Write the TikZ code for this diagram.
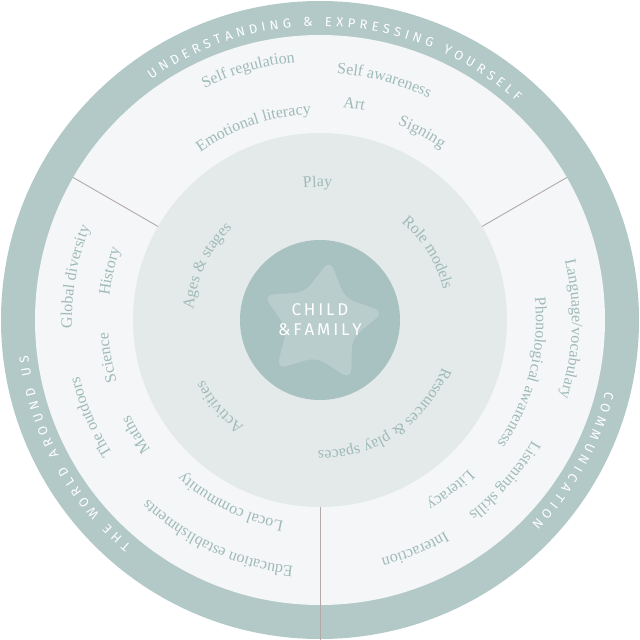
\documentclass[tikz,border=0pt]{standalone}
\usepackage{fontspec}
\setmainfont{Liberation Serif}
\newfontfamily\ringfont{Fira Sans}
\usetikzlibrary{decorations.text,shapes.geometric}
\definecolor{ringc}{HTML}{B2C9C8}
\definecolor{bandc}{HTML}{F4F6F7}
\definecolor{midc}{HTML}{E4EAEA}
\definecolor{cenc}{HTML}{A8C2C1}
\definecolor{starc}{HTML}{B9CECC}
\definecolor{txtc}{HTML}{9FBAB8}
\definecolor{divc}{HTML}{B3AAAA}
\newcommand\sectorfont{\fontsize{16}{18}\selectfont\color{txtc}}
\newcommand\ringf{\ringfont\fontsize{13}{15}\selectfont\color{white}}
% radius, center angle, text, half span
\newcommand\arctxt[4]{%
\path[decorate,decoration={text along path,text={|\sectorfont|#3},text align=center}]
 (#2+#4:#1pt) arc[start angle=#2+#4,end angle=#2-#4,radius=#1pt];}
% radius, start, end, text
\newcommand\ringtxt[4]{%
\path[decorate,decoration={text along path,text={|\ringf|#4},text align={fit to path}}]
 (#2:#1pt) arc[start angle=#2,end angle=#3,radius=#1pt];}
\begin{document}
\begin{tikzpicture}[x=1pt,y=1pt,
  disc/.style={circle,inner sep=0pt,draw=none}]
\useasboundingbox (-320,-320) rectangle (320,320);
\node[disc,fill=ringc,minimum size=638pt] (ring) at (0,0) {};
\node[disc,fill=bandc,minimum size=570pt] (band) at (0,0) {};
\node[disc,fill=midc,minimum size=374pt] (mid) at (0,0) {};
\node[disc,fill=cenc,minimum size=160pt] (cen) at (0,0) {};
\node[star,star points=5,star point ratio=1.85,fill=starc,minimum size=128pt,rounded corners=10pt,rotate=-8,inner sep=0pt] (st) at (1,-3) {};
\node[align=center,text=white,font=\ringfont\fontsize{17}{20}\selectfont] (child) at (0,0) {C\,H\,I\,L\,D\\\&\,F\,A\,M\,I\,L\,Y};
% dividers
\draw[divc,line width=0.9pt] (150:187pt) coordinate (l1) -- (150:285pt) coordinate (l2);
\draw[divc,line width=0.9pt] (30:187pt) coordinate (r1) -- (30:285pt) coordinate (r2);
\draw[divc,line width=0.9pt] (270:187pt) coordinate (b1) -- (270:320pt) coordinate (b2);
% ring texts
\ringtxt{294}{125}{48}{UNDERSTANDING {\&} EXPRESSING YOURSELF}
\ringtxt{294}{230}{187}{THE WORLD AROUND US}
\ringtxt{294}{-14}{-44}{COMMUNICATION}
% top sector
\arctxt{259}{106}{Self regulation}{40}
\arctxt{247}{75}{Self awareness}{40}
\arctxt{206}{109}{Emotional literacy}{40}
\arctxt{214}{81}{Art}{30}
\arctxt{210}{61.5}{Signing}{30}
% left sector
\arctxt{248}{170}{Global diversity}{40}
\arctxt{212}{167}{History}{30}
\arctxt{212}{190}{Science}{30}
\arctxt{247}{203}{The outdoors}{40}
\arctxt{213}{212}{Maths}{30}
\arctxt{205}{244}{Local community}{40}
\arctxt{248}{245}{Education establishments}{45}
% right sector
\arctxt{252}{-2}{Language/vocabulary}{45}
\arctxt{216}{-14.5}{Phonological awareness}{50}
\arctxt{244}{-41}{Listening skills}{40}
\arctxt{211}{-52.5}{Literacy}{30}
\arctxt{246}{-67.5}{Interaction}{30}
% middle
\arctxt{133}{91}{Play}{40}
\arctxt{127}{154.5}{Ages {\&} stages}{50}
\arctxt{127}{32}{Role models}{50}
\arctxt{131}{221}{Activities}{50}
\arctxt{131}{-56}{Resources {\&} play spaces}{70}
\end{tikzpicture}
\end{document}
